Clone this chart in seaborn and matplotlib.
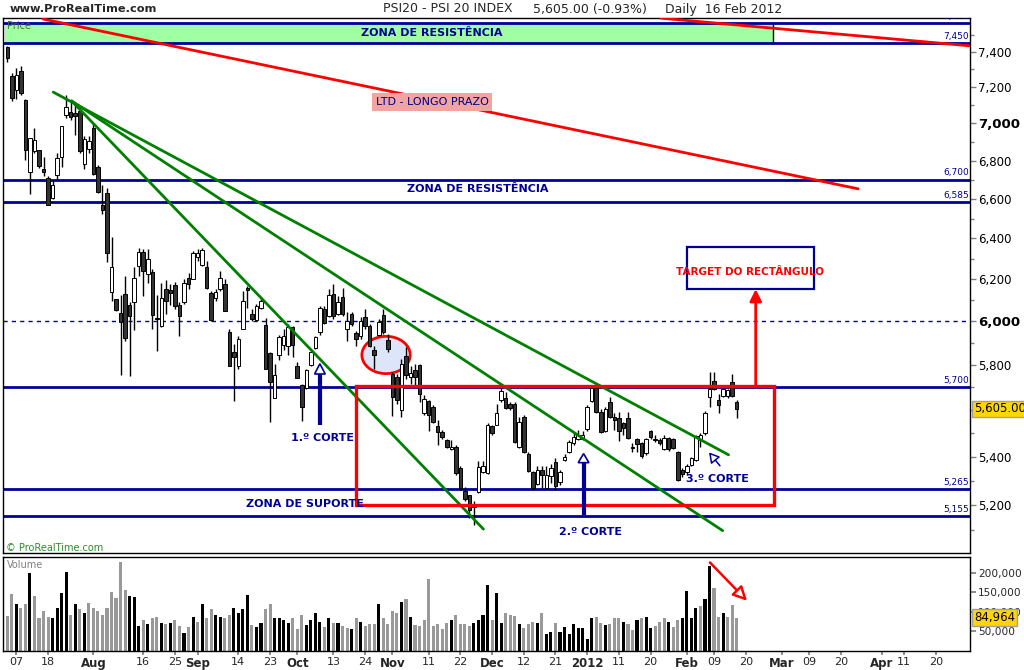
import numpy as np
import pandas as pd
import matplotlib
matplotlib.use("Agg")
import matplotlib.pyplot as plt
import matplotlib.transforms as mtrans
from matplotlib.patches import Rectangle, Polygon
from matplotlib.ticker import FixedLocator, NullFormatter
import seaborn as sns

# ---------------- data ----------------
start_date = "2011-07-05"
end_date = "2012-04-30"
holidays = ["2011-12-26", "2012-04-06", "2012-04-09"]

opens = [
    7429, 7263, 7185, 7291, 7129, 6740, 6849, 6858, 6758, 6709,
    6606, 6722, 6819, 7045, 7063, 7059, 7069, 6782, 6862, 6974,
    6767, 6571, 6631, 6141, 6105, 6039, 6128, 6076, 6089, 6265,
    6334, 6227, 6237, 6016, 5980, 6155, 6149, 6171, 6078, 6089,
    6208, 6203, 6310, 6268, 6257, 6136, 6108, 6155, 6176, 5949,
    5860, 5797, 5964, 6160, 6034, 6006, 6065, 5984, 5855, 5653,
    5846, 5891, 5885, 5972, 5797, 5708, 5697, 5800, 5876, 5949,
    6057, 6026, 6128, 6034, 6113, 5964, 6034, 5945, 5933, 6019,
    5976, 5868, 5937, 6029, 5914, 5760, 5745, 5599, 5842, 5745,
    5775, 5800, 5585, 5638, 5613, 5530, 5503, 5470, 5432, 5442,
    5352, 5258, 5240, 5192, 5255, 5335, 5331, 5531, 5537, 5643,
    5654, 5628, 5628, 5442, 5570, 5410, 5335, 5286, 5345, 5272,
    5318, 5376, 5294, 5386, 5418, 5456, 5477, 5477, 5517, 5638,
    5697, 5592, 5508, 5636, 5570, 5566, 5542, 5566, 5440, 5474,
    5456, 5414, 5510, 5477, 5470, 5432, 5480, 5477, 5421, 5345,
    5335, 5365, 5386, 5470, 5499, 5657, 5726, 5643, 5662, 5662,
    5723, 5636]
highs = [
    7435, 7280, 7307, 7320, 7133, 6920, 6974, 6858, 6820, 6717,
    6691, 6841, 6987, 7157, 7129, 7111, 7083, 6929, 6929, 7001,
    6779, 6674, 6657, 6408, 6105, 6124, 6216, 6089, 6257, 6354,
    6346, 6346, 6248, 6124, 6184, 6197, 6176, 6187, 6091, 6203,
    6232, 6337, 6346, 6354, 6289, 6144, 6152, 6240, 6200, 5964,
    5896, 5933, 6144, 6165, 6057, 6081, 6113, 6014, 5858, 5805,
    5937, 5964, 5987, 5980, 5812, 5716, 5782, 5864, 5933, 6073,
    6073, 6155, 6176, 6120, 6160, 6042, 6045, 5957, 6019, 6057,
    5987, 5888, 6011, 6057, 5941, 5770, 5760, 5827, 5880, 5797,
    5805, 5805, 5665, 5643, 5621, 5556, 5512, 5477, 5470, 5449,
    5359, 5276, 5242, 5215, 5380, 5380, 5542, 5537, 5624, 5703,
    5679, 5636, 5636, 5570, 5577, 5418, 5341, 5359, 5359, 5363,
    5368, 5393, 5345, 5410, 5470, 5499, 5512, 5508, 5621, 5701,
    5706, 5606, 5613, 5658, 5585, 5592, 5549, 5592, 5456, 5480,
    5463, 5480, 5512, 5492, 5480, 5494, 5484, 5480, 5424, 5352,
    5368, 5400, 5494, 5499, 5595, 5770, 5770, 5672, 5701, 5694,
    5760, 5643]
lows = [
    7343, 7124, 7133, 7157, 6801, 6626, 6840, 6763, 6717, 6568,
    6597, 6700, 6767, 7029, 7020, 6938, 6840, 6756, 6840, 6726,
    6628, 6521, 6284, 6097, 6048, 5753, 5910, 5748, 5961, 6216,
    6120, 6184, 5964, 5861, 5972, 6034, 6076, 6060, 5933, 6081,
    6152, 6200, 6287, 6265, 6155, 6003, 6097, 6144, 6049, 5797,
    5638, 5782, 5964, 6065, 6003, 6003, 6057, 5782, 5549, 5653,
    5820, 5866, 5846, 5835, 5741, 5551, 5694, 5797, 5870, 5937,
    5987, 6019, 6011, 6029, 6023, 5910, 5980, 5888, 5918, 5964,
    5880, 5782, 5933, 5941, 5858, 5575, 5624, 5570, 5738, 5716,
    5708, 5635, 5580, 5508, 5542, 5449, 5477, 5435, 5428, 5324,
    5262, 5215, 5148, 5121, 5249, 5331, 5327, 5492, 5534, 5636,
    5606, 5599, 5456, 5438, 5414, 5338, 5262, 5283, 5269, 5269,
    5290, 5262, 5283, 5380, 5414, 5449, 5470, 5470, 5508, 5636,
    5585, 5499, 5506, 5563, 5512, 5466, 5494, 5477, 5421, 5421,
    5393, 5407, 5477, 5463, 5449, 5428, 5424, 5432, 5300, 5317,
    5324, 5359, 5380, 5440, 5494, 5613, 5686, 5585, 5657, 5653,
    5657, 5563]
closes = [
    7366, 7138, 7269, 7166, 6858, 6920, 6911, 6770, 6740, 6571,
    6674, 6813, 6987, 7089, 7034, 7041, 6849, 6915, 6902, 6730,
    6634, 6542, 6330, 6257, 6054, 5995, 5921, 6023, 6208, 6334,
    6240, 6297, 6031, 6012, 6108, 6097, 6133, 6073, 6026, 6184,
    6176, 6326, 6330, 6342, 6160, 6008, 6141, 6208, 6049, 5797,
    5835, 5918, 6097, 6149, 6011, 6073, 6097, 5782, 5723, 5753,
    5926, 5930, 5972, 5891, 5741, 5613, 5775, 5860, 5926, 6062,
    5992, 6125, 6023, 6089, 6034, 6003, 5987, 5918, 6003, 5980,
    5888, 5843, 5995, 5949, 5873, 5657, 5643, 5805, 5753, 5764,
    5745, 5672, 5650, 5580, 5549, 5505, 5484, 5442, 5442, 5331,
    5269, 5226, 5181, 5200, 5355, 5363, 5537, 5499, 5585, 5684,
    5609, 5609, 5463, 5549, 5418, 5341, 5272, 5345, 5322, 5324,
    5352, 5279, 5335, 5400, 5463, 5484, 5494, 5494, 5613, 5697,
    5592, 5506, 5606, 5570, 5556, 5508, 5523, 5480, 5436, 5452,
    5404, 5477, 5484, 5470, 5456, 5480, 5432, 5435, 5303, 5327,
    5359, 5393, 5489, 5492, 5589, 5694, 5694, 5621, 5691, 5687,
    5662, 5605]
volume_k = [
    90.6, 145, 119, 109, 119, 199, 140, 85, 101, 88,
    85, 109, 148, 202, 93, 119, 106, 96, 122, 111,
    101, 93, 111, 150, 135, 228, 155, 140, 137, 65,
    78, 70, 85, 88, 72, 70, 72, 80, 65, 47,
    62, 88, 75, 119, 85, 106, 93, 88, 83, 93,
    111, 98, 106, 142, 67, 62, 72, 106, 119, 85,
    83, 80, 72, 85, 57, 93, 67, 78, 96, 75,
    62, 83, 72, 72, 65, 60, 57, 85, 75, 65,
    70, 70, 119, 85, 70, 101, 98, 124, 132, 88,
    67, 65, 78, 184, 65, 70, 57, 72, 78, 93,
    70, 70, 65, 72, 78, 93, 168, 80, 148, 72,
    96, 93, 90.6, 70, 60, 70, 75, 72, 98, 44,
    49, 72, 49, 62, 44, 70, 60, 60, 31, 83,
    88, 72, 67, 70, 83, 83, 75, 70, 54, 80,
    85, 88, 60, 65, 75, 83, 75, 62, 78, 85,
    153, 83, 111, 114, 132, 217, 161, 88, 98, 88,
    117, 84.964]
# k = black (up) bar, g = grey (down) bar
volume_dir = list(
    "ggkggkgggg" "kkkkgkgkgg" "gggggggkkk" "gkggkgkggk" "gkgkggkkgg"
    "kkkkgkkggk" "kkkgggkkkk" "gkgkggkgkg" "ggkggggkgk" "ggggggggkg"
    "gggkkkkgkk" "gg"
    "gkgggkgkkg" "kkkkkkkkgg" "kgggkggkgk" "kgggkggkkk" "kgkkggkggg"
)
tick_dates = ["2011-07-07", "2011-07-18", "2011-08-01", "2011-08-16", "2011-08-25",
              "2011-09-01", "2011-09-14", "2011-09-23", "2011-10-03", "2011-10-13",
              "2011-10-24", "2011-11-01", "2011-11-11", "2011-11-22", "2011-12-01",
              "2011-12-12", "2011-12-21", "2012-01-02", "2012-01-11", "2012-01-20",
              "2012-02-01", "2012-02-09", "2012-02-20", "2012-03-01", "2012-03-09",
              "2012-03-20", "2012-04-02", "2012-04-11", "2012-04-20"]
tick_labels = ["07", "18", "Aug", "16", "25", "Sep", "14", "23", "Oct", "13", "24",
               "Nov", "11", "22", "Dec", "12", "21", "2012", "11", "20", "Feb", "09",
               "20", "Mar", "09", "20", "Apr", "11", "20"]
bold_labels = {"Aug", "Sep", "Oct", "Nov", "Dec", "2012", "Feb", "Mar", "Apr"}
levels = [7570, 7450, 6700, 6585, 5700, 5265, 5155]
level_labels = ["7,570", "7,450", "6,700", "6,585", "5,700", "5,265", "5,155"]
price_ticks = [5200, 5400, 5600, 5800, 6000, 6200, 6400, 6600, 6800, 7000, 7200, 7400]
hidden_price_labels = {5600}          # covered by the last-price box
vol_ticks = [50000, 100000, 150000, 200000]
last_price = 5605.00
last_volume = 84964

# ---------------- setup ----------------
sns.set_theme(style="white")
plt.rcParams["font.family"] = ["DejaVu Sans"]

days = pd.bdate_range(start_date, end_date)
days = days[~days.isin(pd.to_datetime(holidays))]
n = len(opens)
x = np.arange(n)
o = np.array(opens, float); c = np.array(closes, float)
h = np.array(highs, float); l = np.array(lows, float)

NAVY = "#000099"
fig = plt.figure(figsize=(10.24, 6.70), dpi=100)
W, H = 1024, 670
ax = fig.add_axes([3 / W, (H - 553) / H, 967 / W, (553 - 18) / H])
axv = fig.add_axes([3 / W, (H - 651) / H, 967 / W, (651 - 557) / H])
XL = (-0.95, 212.5)

# ---------------- price panel ----------------
ax.set_yscale("log")
ax.set_ylim(5010, 7598)
ax.set_xlim(*XL)
ax.set_facecolor("white")

# green resistance zone
ax.fill_between([-0.5, 169.0], 7450, 7570, color="#a0ffa0", zorder=1, lw=0)
ax.vlines(169.0, 7450, 7570, color="black", lw=1, zorder=1.5)
ax.text(93.75, 7508, "ZONA DE RESISTÊNCIA", color=NAVY, fontsize=8, fontweight="bold",
        ha="center", va="center", zorder=6)

for lv, lb in zip(levels, level_labels):
    ax.axhline(lv, color=NAVY, lw=2, zorder=2)
    ax.annotate(lb, xy=(212.2, lv), xytext=(0, 1.5), textcoords="offset points",
                ha="right", va="bottom", color=NAVY, fontsize=6.5, zorder=6,
                annotation_clip=False, clip_on=True)
ax.axhline(6000, color=NAVY, lw=1, ls=(0, (3, 3)), zorder=2)

# ellipse highlight
t = np.linspace(0, 2 * np.pi, 120)
ax.fill(83.6 + 5.33 * np.cos(t), 5845 * np.exp(0.01451 * np.sin(t)),
        fc="#dde5fa", ec="red", lw=2, zorder=2.5)

# candles
lo_b = np.minimum(o, c); hi_b = np.maximum(o, c)
hi_b = np.maximum(hi_b, lo_b * 1.0007)
upc = c >= o
ax.vlines(x, l, h, color="black", lw=1, zorder=3)
ax.bar(x, hi_b - lo_b, bottom=lo_b, width=0.78,
       color=np.where(upc, "white", "#333333"), edgecolor="black", lw=0.7, zorder=4)

# trend lines
ax.plot([7.88, 187.8], [7592, 6652], color="red", lw=2, zorder=5)
ax.plot([144.3, 212.5], [7597, 7435], color="red", lw=2, zorder=5)
ax.plot([10.15, 159.2], [7172, 5408], color="#008000", lw=2, zorder=5)
ax.plot([14.2, 157.9], [7123, 5098], color="#008000", lw=2, zorder=5)
ax.plot([14.2, 105.1], [7123, 5104], color="#008000", lw=2, zorder=5)

# rectangle pattern + target
ax.add_patch(Rectangle((77.0, 5200), 169.3 - 77.0, 5706 - 5200, fill=False,
                       ec="red", lw=2.4, zorder=6))
ax.annotate("", xy=(165.2, 6152), xytext=(165.2, 5706),
            arrowprops=dict(arrowstyle="-|>,head_length=0.5,head_width=0.25",
                            color="red", lw=2, shrinkA=0, shrinkB=0, mutation_scale=14),
            zorder=6)
ax.add_patch(Rectangle((150.0, 6152), 28.1, 6357 - 6152, fill=False, ec=NAVY,
                       lw=1.6, zorder=6))
ax.text(164.0, 6236, "TARGET DO RECTÂNGULO", color="red", fontsize=7.5,
        fontweight="bold", ha="center", va="center", zorder=7)

# text labels
ax.text(93.75, 7115, "LTD - LONGO PRAZO", color="#000080", fontsize=8,
        ha="center", va="center", zorder=7,
        bbox=dict(fc="#f4a3a3", ec="none", boxstyle="square,pad=0.35"))
ax.text(103.9, 6652, "ZONA DE RESISTÊNCIA", color=NAVY, fontsize=8,
        fontweight="bold", ha="center", va="center", zorder=7)
ax.text(65.7, 5204, "ZONA DE SUPORTE", color=NAVY, fontsize=8,
        fontweight="bold", ha="center", va="center", zorder=7)
ax.text(69.5, 5481, "1.º CORTE", color=NAVY, fontsize=8, fontweight="bold",
        ha="center", va="center", zorder=7)
ax.text(128.8, 5094, "2.º CORTE", color=NAVY, fontsize=8, fontweight="bold",
        ha="center", va="center", zorder=7)
ax.text(156.7, 5306, "3.º CORTE", color=NAVY, fontsize=8, fontweight="bold",
        ha="center", va="center", zorder=7)

# CORTE arrows
for ax_x, apex, base, foot in [(69.0, 5805, 5759, 5537), (127.2, 5413, 5375, 5161)]:
    ax.plot([ax_x, ax_x], [foot, base], color=NAVY, lw=3, zorder=7,
            solid_capstyle="butt")
    ax.add_patch(Polygon([(ax_x, apex), (ax_x - 1.18, base), (ax_x + 1.18, base)],
                         closed=True, fc="white", ec=NAVY, lw=1.2, zorder=7))
ax.annotate("", xy=(154.9, 5418), xytext=(157.3, 5362),
            arrowprops=dict(arrowstyle="-|>,head_length=0.6,head_width=0.35",
                            fc="white", ec=NAVY, lw=1.1, shrinkA=0, shrinkB=0,
                            mutation_scale=10), zorder=7)

# axis styling
ax.yaxis.tick_right()
ax.set_yticks(price_ticks, labels=["" if v in hidden_price_labels else f"{v:,}"
                                   for v in price_ticks])
ax.yaxis.set_minor_locator(FixedLocator([v for v in range(5100, 7600, 100)
                                         if v not in price_ticks]))
ax.yaxis.set_minor_formatter(NullFormatter())
ax.tick_params(axis="y", which="major", direction="out", length=4, width=1,
               color="#808080", labelsize=8.5, pad=2, labelcolor="black",
               right=True, left=False)
ax.tick_params(axis="y", which="minor", direction="out", length=3, width=1,
               color="#808080", right=True, left=False)
for lbl in ax.get_yticklabels():
    if lbl.get_text() in ("6,000", "7,000"):
        lbl.set_fontweight("bold")
        lbl.set_fontsize(9.5)
ax.set_xticks([])
for sp in ax.spines.values():
    sp.set_color("black"); sp.set_linewidth(1)
blend = mtrans.blended_transform_factory(ax.transAxes, ax.transData)
ax.text(1.004, last_price, f"{last_price:,.2f}", transform=blend, ha="left",
        va="center", fontsize=8.5, color="black", zorder=10, clip_on=False,
        bbox=dict(fc="#ffd700", ec="#a0a0a0", boxstyle="square,pad=0.15"))

# ---------------- volume panel ----------------
vdf = pd.DataFrame({"x": x, "vol": np.array(volume_k) * 1000,
                    "dir": ["up" if d == "k" else "down" for d in volume_dir]})
sns.barplot(data=vdf, x="x", y="vol", hue="dir", native_scale=True, dodge=False,
            palette={"up": "black", "down": "#999999"}, width=0.68, saturation=1,
            errorbar=None, legend=False, ax=axv, linewidth=0)
axv.set_xlim(*XL)
axv.set_ylim(0, 240000)
axv.set_xlabel(""); axv.set_ylabel("")
axv.yaxis.tick_right()
axv.set_yticks(vol_ticks, labels=[f"{v:,}" for v in vol_ticks])
axv.tick_params(axis="y", direction="out", length=4, color="#808080",
                labelsize=7.6, pad=2, right=True, left=False)
tick_pos = days.get_indexer(pd.to_datetime(tick_dates))
axv.set_xticks(tick_pos, labels=tick_labels)
axv.tick_params(axis="x", direction="out", length=3, color="#808080",
                labelsize=8, pad=1, bottom=True)
for lbl in axv.get_xticklabels():
    if lbl.get_text() in bold_labels:
        lbl.set_fontweight("bold")
        lbl.set_fontsize(8.5)
for sp in axv.spines.values():
    sp.set_color("black"); sp.set_linewidth(1)
axv.annotate("", xy=(163.3, 128000), xytext=(155.1, 226000),
             arrowprops=dict(arrowstyle="-|>,head_length=0.7,head_width=0.35",
                             fc="white", ec="red", lw=1.8, shrinkA=0, shrinkB=0,
                             mutation_scale=12), zorder=6)
blendv = mtrans.blended_transform_factory(axv.transAxes, axv.transData)
axv.text(1.004, last_volume, f"{last_volume:,}", transform=blendv, ha="left",
         va="center", fontsize=8.5, color="black", zorder=10, clip_on=False,
         bbox=dict(fc="#ffd700", ec="#a0a0a0", boxstyle="square,pad=0.15"))

# ---------------- header / captions ----------------
def fy(py):
    return 1 - py / H

fig.text(10 / W, fy(9), "www.ProRealTime.com", fontsize=8.2, fontweight="bold",
         va="center", ha="left")
fig.text(383 / W, fy(9), "PSI20 - PSI 20 INDEX", fontsize=9, va="center", ha="left")
fig.text(533 / W, fy(9), "5,605.00 (-0.93%)", fontsize=9, va="center", ha="left")
fig.text(665 / W, fy(9), "Daily  16 Feb 2012", fontsize=9, va="center", ha="left")
fig.text(7 / W, fy(26), "Price", fontsize=7, color="#4a6a4a", va="center", ha="left")
fig.text(6 / W, fy(548), "© ProRealTime.com", fontsize=7, color="#2e8b2e",
         va="center", ha="left")
fig.text(7 / W, fy(565), "Volume", fontsize=7, color="#808080", va="center", ha="left")

fig.savefig("out.png", dpi=100, facecolor="white")
